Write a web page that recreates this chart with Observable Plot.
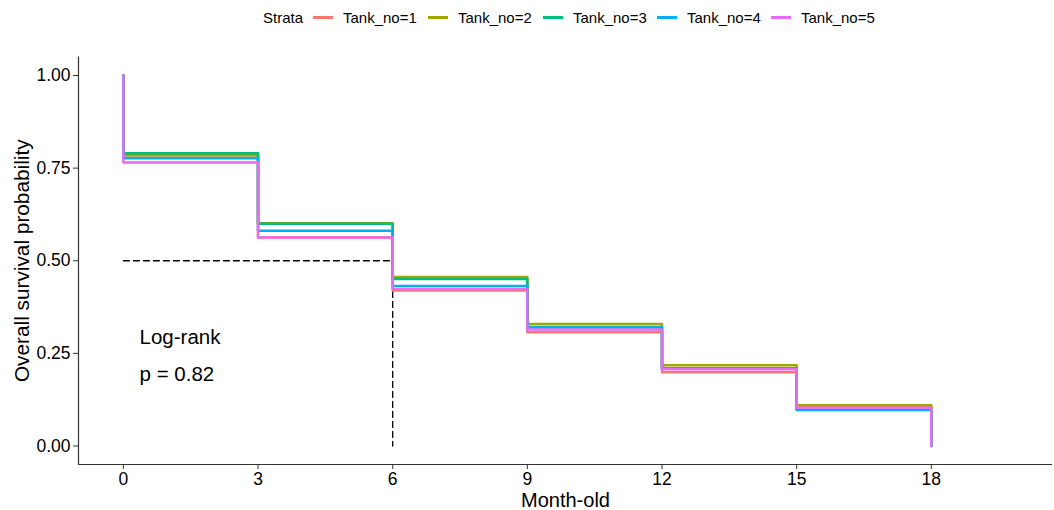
<!DOCTYPE html>
<html>
<head>
<meta charset="utf-8">
<script src="https://cdn.jsdelivr.net/npm/d3@7"></script>
<script src="https://cdn.jsdelivr.net/npm/@observablehq/plot@0.6"></script>
<style>
  html, body { margin: 0; padding: 0; background: #fff; }
  body { width: 1054px; height: 510px; overflow: hidden; font-family: "Liberation Sans", Arial, sans-serif; }
  #legend { position: relative; height: 32px; }
  #legend .item { position: absolute; top: 9px; font-size: 15px; line-height: 17px; color: #000; white-space: nowrap; }
  #legend .sw { position: absolute; top: 16px; height: 3px; width: 20px; }
</style>
</head>
<body>
<div id="legend"></div>
<div id="chart"></div>
<script>
const times = [0, 3, 6, 9, 12, 15, 18];
const strata = ["Tank_no=1", "Tank_no=2", "Tank_no=3", "Tank_no=4", "Tank_no=5"];
const colors = ["#F8766D", "#A3A500", "#00BF7D", "#00B0F6", "#E76BF3"];
// survival estimate after the event at each time (time 0 starts at 1.00)
const tank1 = [0.785, 0.563, 0.420, 0.307, 0.199, 0.107, 0];
const tank2 = [0.785, 0.601, 0.456, 0.329, 0.218, 0.110, 0];
const tank3 = [0.790, 0.600, 0.451, 0.321, 0.210, 0.098, 0];
const tank4 = [0.777, 0.581, 0.432, 0.320, 0.209, 0.097, 0];
const tank5 = [0.765, 0.5625, 0.424, 0.3145, 0.207, 0.103, 0];
const yTicks = [0, 0.25, 0.5, 0.75, 1];
const medianSurv = 0.5, medianTime = 6;
const pvalText = ["Log-rank", "p = 0.82"];

const series = [tank1, tank2, tank3, tank4, tank5];
const rows = [];
series.forEach((vals, i) => {
  rows.push({strata: strata[i], t: 0, s: 1});
  vals.forEach((v, j) => rows.push({strata: strata[i], t: times[j], s: v}));
});

// legend
const leg = document.getElementById("legend");
const font = "Liberation Sans, Arial, sans-serif";
const strataLbl = document.createElement("div");
strataLbl.className = "item"; strataLbl.style.left = "263px"; strataLbl.textContent = "Strata";
leg.appendChild(strataLbl);
const itemStarts = [313, 428, 543, 657, 771];
strata.forEach((s, i) => {
  const sw = document.createElement("div");
  sw.className = "sw"; sw.style.left = itemStarts[i] + "px"; sw.style.background = colors[i];
  leg.appendChild(sw);
  const t = document.createElement("div");
  t.className = "item"; t.style.left = (itemStarts[i] + 30) + "px"; t.textContent = s;
  leg.appendChild(t);
});

const chart = Plot.plot({
  width: 1054,
  height: 478,
  marginLeft: 78,
  marginRight: 2,
  marginTop: 24.5,
  marginBottom: 46,
  style: {fontFamily: font, fontSize: "17.5px", color: "#000", background: "#fff"},
  x: {domain: [-1, 20.7]},
  y: {domain: [-0.05, 1.05]},
  color: {domain: strata, range: colors},
  marks: [
    Plot.axisX({ticks: times, tickFormat: d => d, tickSize: 5, tickPadding: 3, label: null, stroke: "#333", fill: "#000", fontSize: 17.5}),
    Plot.axisY({ticks: yTicks, tickFormat: d3.format(".2f"), tickSize: 5, tickPadding: 3, label: null, stroke: "#333", fill: "#000", fontSize: 17.5}),
    Plot.ruleX([-1], {stroke: "#333", strokeWidth: 1.2}),
    Plot.ruleY([-0.05], {stroke: "#333", strokeWidth: 1.2}),
    Plot.line([{t: 0, s: medianSurv}, {t: medianTime, s: medianSurv}, {t: medianTime, s: 0}], {x: "t", y: "s", stroke: "#000", strokeWidth: 1.3, strokeDasharray: "6,4"}),
    Plot.line(rows, {x: "t", y: "s", z: "strata", stroke: "strata", curve: "step-after", strokeWidth: 2.5}),
    Plot.text([pvalText[0]], {x: 0.36, y: 0.293, text: d => d, textAnchor: "start", fontSize: 20.5}),
    Plot.text([pvalText[1]], {x: 0.36, y: 0.193, text: d => d, textAnchor: "start", fontSize: 20.5}),
    Plot.text(["Month-old"], {frameAnchor: "bottom", dy: 36, lineAnchor: "middle", textAnchor: "middle", text: d => d, fontSize: 20}),
    Plot.text(["Overall survival probability"], {frameAnchor: "left", dx: -56, rotate: -90, textAnchor: "middle", lineAnchor: "middle", text: d => d, fontSize: 20.8})
  ]
});
document.getElementById("chart").appendChild(chart);
</script>
</body>
</html>
